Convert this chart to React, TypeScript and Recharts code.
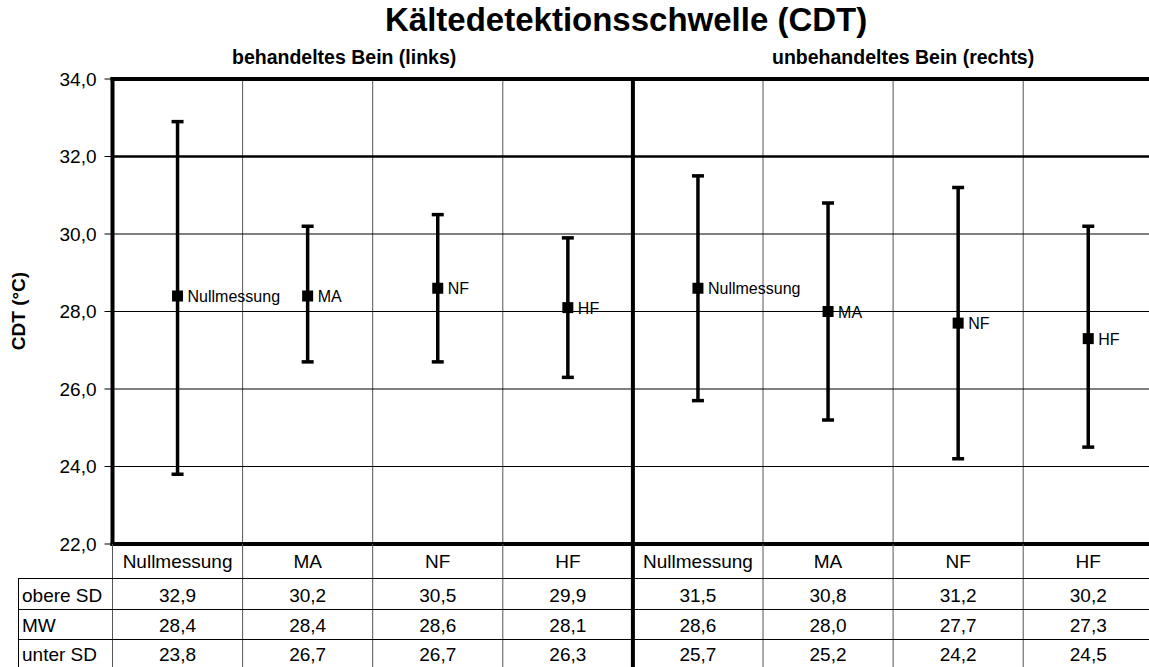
import React from 'react';
import {
  ComposedChart,
  Scatter,
  ErrorBar,
  XAxis,
  YAxis,
  CartesianGrid,
  ReferenceLine,
} from 'recharts';

const categories = ['Nullmessung', 'MA', 'NF', 'HF', 'Nullmessung', 'MA', 'NF', 'HF'];
const upperSD = [32.9, 30.2, 30.5, 29.9, 31.5, 30.8, 31.2, 30.2];
const meanValues = [28.4, 28.4, 28.6, 28.1, 28.6, 28.0, 27.7, 27.3];
const lowerSD = [23.8, 26.7, 26.7, 26.3, 25.7, 25.2, 24.2, 24.5];
const yTicks = [22, 24, 26, 28, 30, 32, 34];
const rowLabels = ['obere SD', 'MW', 'unter SD'];
const groupTitles = ['behandeltes Bein (links)', 'unbehandeltes Bein (rechts)'];
const chartTitle = 'Kältedetektionsschwelle (CDT)';
const yLabel = 'CDT (°C)';

const FONT = '"Liberation Sans", Arial, Helvetica, sans-serif';

const rows = categories.map((name, i) => ({
  x: i + 0.5,
  name,
  mean: meanValues[i],
  err: [+(meanValues[i] - lowerSD[i]).toFixed(2), +(upperSD[i] - meanValues[i]).toFixed(2)],
}));

const boundTicks = categories.map((_, i) => i).concat([categories.length]);
const centerTicks = categories.map((_, i) => i + 0.5);

const fmt = (v: number) => v.toFixed(1).replace('.', ',');

const renderBoundTick = (props: any) => {
  const { x, y, payload } = props;
  const mid = payload.value === categories.length / 2;
  return (
    <line
      key={`b-${payload.value}`}
      x1={x}
      x2={x}
      y1={y}
      y2={y + 125}
      stroke={mid ? '#000' : '#555'}
      strokeWidth={mid ? 4 : 1}
    />
  );
};

const renderCenterTick = (props: any) => {
  const { x, y, payload } = props;
  const i = Math.round(payload.value - 0.5);
  const common = { textAnchor: 'middle' as const, fontSize: 19, fontFamily: FONT, fill: '#000' };
  return (
    <g key={`c-${payload.value}`}>
      <text x={x} y={y + 23} {...common}>{categories[i]}</text>
      <text x={x} y={y + 57} {...common}>{fmt(upperSD[i])}</text>
      <text x={x} y={y + 87} {...common}>{fmt(meanValues[i])}</text>
      <text x={x} y={y + 116} {...common}>{fmt(lowerSD[i])}</text>
    </g>
  );
};

const PointShape = (props: any) => {
  const { cx, cy, payload } = props;
  return (
    <g>
      <rect x={cx - 5.5} y={cy - 5.5} width={11} height={11} fill="#000" />
      <text x={cx + 10} y={cy + 6} fontSize={16} fontFamily={FONT} fill="#000">
        {payload.name}
      </text>
    </g>
  );
};

export default function App() {
  return (
    <div
      style={{
        position: 'absolute',
        left: 0,
        top: 0,
        width: 1149,
        height: 667,
        overflow: 'hidden',
        background: '#fff',
        fontFamily: FONT,
      }}
    >
      <ComposedChart
        width={1160}
        height={667}
        data={rows}
        margin={{ top: 79, right: 6.7, bottom: 121, left: 12.5 }}
      >
        <CartesianGrid xAxisId="b" horizontal={false} vertical={true} stroke="#555" strokeWidth={1} />
        <CartesianGrid xAxisId="b" horizontal={true} vertical={false} stroke="#000" strokeWidth={1} />
        <XAxis
          xAxisId="b"
          type="number"
          dataKey="x"
          domain={[0, categories.length]}
          allowDataOverflow={true}
          ticks={boundTicks}
          interval={0}
          height={1}
          axisLine={false}
          tickLine={false}
          tickSize={0}
          tickMargin={0}
          tick={renderBoundTick}
        />
        <XAxis
          xAxisId="c"
          type="number"
          dataKey="x"
          domain={[0, categories.length]}
          allowDataOverflow={true}
          ticks={centerTicks}
          interval={0}
          height={1}
          axisLine={false}
          tickLine={false}
          tickSize={0}
          tickMargin={0}
          tick={renderCenterTick}
        />
        <YAxis
          type="number"
          domain={[yTicks[0], yTicks[yTicks.length - 1]]}
          ticks={yTicks}
          interval={0}
          width={100}
          axisLine={false}
          tickLine={{ stroke: '#000', strokeWidth: 1 }}
          tickSize={8}
          tickMargin={8}
          tick={{ fill: '#000', fontSize: 19, fontFamily: FONT }}
          tickFormatter={fmt}
        />
        <ReferenceLine xAxisId="b" y={32} stroke="#000" strokeWidth={2.5} />
        <ReferenceLine xAxisId="b" y={34} stroke="#000" strokeWidth={4} strokeLinecap="square" />
        <ReferenceLine xAxisId="b" y={22} stroke="#000" strokeWidth={4} strokeLinecap="square" />
        <ReferenceLine xAxisId="b" x={0} stroke="#000" strokeWidth={4} strokeLinecap="square" />
        <ReferenceLine xAxisId="b" x={categories.length / 2} stroke="#000" strokeWidth={4} />
        <ReferenceLine xAxisId="b" x={categories.length} stroke="#000" strokeWidth={4} />
        <Scatter
          xAxisId="c"
          dataKey="mean"
          data={rows}
          isAnimationActive={false}
          shape={<PointShape />}
        >
          <ErrorBar dataKey="err" direction="y" width={6} strokeWidth={3.5} stroke="#000" isAnimationActive={false} />
        </Scatter>
      </ComposedChart>
      <svg
        width={1149}
        height={667}
        style={{ position: 'absolute', left: 0, top: 0, pointerEvents: 'none' }}
      >
        <text x={385} y={31} fontSize={33} fontWeight="bold" fontFamily={FONT} fill="#000">
          {chartTitle}
        </text>
        <text x={232} y={64} fontSize={19.5} fontWeight="bold" fontFamily={FONT} fill="#000">
          {groupTitles[0]}
        </text>
        <text x={772} y={64} fontSize={19.5} fontWeight="bold" fontFamily={FONT} fill="#000">
          {groupTitles[1]}
        </text>
        <text
          x={25}
          y={311}
          fontSize={19}
          fontWeight="bold"
          fontFamily={FONT}
          fill="#000"
          textAnchor="middle"
          transform="rotate(-90 25 311)"
        >
          {yLabel}
        </text>
        <line x1={18} x2={1149} y1={578.5} y2={578.5} stroke="#000" strokeWidth={1} />
        <line x1={18} x2={1149} y1={609.5} y2={609.5} stroke="#000" strokeWidth={1} />
        <line x1={18} x2={1149} y1={639.5} y2={639.5} stroke="#000" strokeWidth={1} />
        <line x1={18.5} x2={18.5} y1={578} y2={667} stroke="#000" strokeWidth={1} />
        {rowLabels.map((r, k) => (
          <text key={r} x={22} y={[602, 632, 661][k]} fontSize={19} fontFamily={FONT} fill="#000">
            {r}
          </text>
        ))}
      </svg>
    </div>
  );
}
